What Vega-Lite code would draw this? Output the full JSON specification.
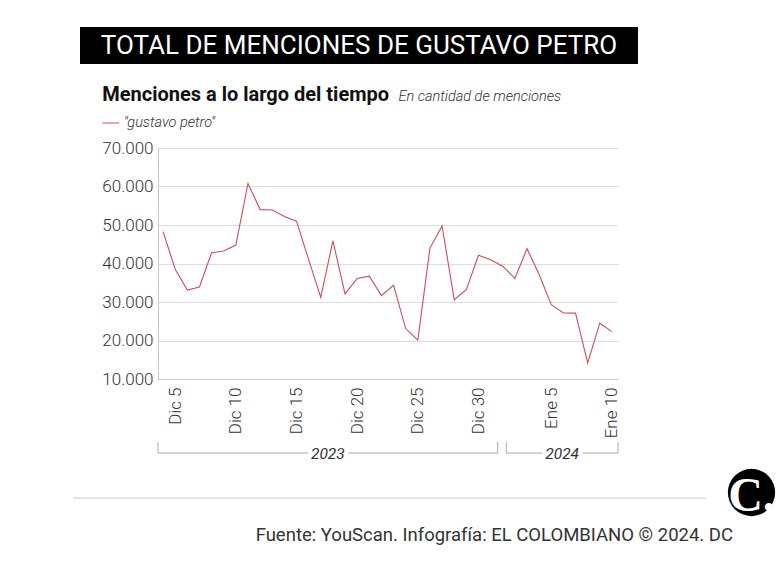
{
  "$schema": "https://vega.github.io/schema/vega-lite/v6.json",
  "padding": {"left": 72, "top": 27, "right": 2, "bottom": 15},
  "background": "white",
  "config": {
    "view": {"stroke": null},
    "font": "Roboto"
  },
  "datasets": {
    "menciones": [
      {"fecha": "2023-12-04", "menciones": 48300, "serie": "\"gustavo petro\""},
      {"fecha": "2023-12-05", "menciones": 38500, "serie": "\"gustavo petro\""},
      {"fecha": "2023-12-06", "menciones": 33100, "serie": "\"gustavo petro\""},
      {"fecha": "2023-12-07", "menciones": 33900, "serie": "\"gustavo petro\""},
      {"fecha": "2023-12-08", "menciones": 42800, "serie": "\"gustavo petro\""},
      {"fecha": "2023-12-09", "menciones": 43250, "serie": "\"gustavo petro\""},
      {"fecha": "2023-12-10", "menciones": 44800, "serie": "\"gustavo petro\""},
      {"fecha": "2023-12-11", "menciones": 60800, "serie": "\"gustavo petro\""},
      {"fecha": "2023-12-12", "menciones": 54000, "serie": "\"gustavo petro\""},
      {"fecha": "2023-12-13", "menciones": 53900, "serie": "\"gustavo petro\""},
      {"fecha": "2023-12-14", "menciones": 52200, "serie": "\"gustavo petro\""},
      {"fecha": "2023-12-15", "menciones": 51000, "serie": "\"gustavo petro\""},
      {"fecha": "2023-12-16", "menciones": 41000, "serie": "\"gustavo petro\""},
      {"fecha": "2023-12-17", "menciones": 31200, "serie": "\"gustavo petro\""},
      {"fecha": "2023-12-18", "menciones": 45900, "serie": "\"gustavo petro\""},
      {"fecha": "2023-12-19", "menciones": 32100, "serie": "\"gustavo petro\""},
      {"fecha": "2023-12-20", "menciones": 36100, "serie": "\"gustavo petro\""},
      {"fecha": "2023-12-21", "menciones": 36700, "serie": "\"gustavo petro\""},
      {"fecha": "2023-12-22", "menciones": 31650, "serie": "\"gustavo petro\""},
      {"fecha": "2023-12-23", "menciones": 34350, "serie": "\"gustavo petro\""},
      {"fecha": "2023-12-24", "menciones": 23100, "serie": "\"gustavo petro\""},
      {"fecha": "2023-12-25", "menciones": 20100, "serie": "\"gustavo petro\""},
      {"fecha": "2023-12-26", "menciones": 44000, "serie": "\"gustavo petro\""},
      {"fecha": "2023-12-27", "menciones": 49750, "serie": "\"gustavo petro\""},
      {"fecha": "2023-12-28", "menciones": 30600, "serie": "\"gustavo petro\""},
      {"fecha": "2023-12-29", "menciones": 33200, "serie": "\"gustavo petro\""},
      {"fecha": "2023-12-30", "menciones": 42150, "serie": "\"gustavo petro\""},
      {"fecha": "2023-12-31", "menciones": 41000, "serie": "\"gustavo petro\""},
      {"fecha": "2024-01-01", "menciones": 39300, "serie": "\"gustavo petro\""},
      {"fecha": "2024-01-02", "menciones": 36100, "serie": "\"gustavo petro\""},
      {"fecha": "2024-01-03", "menciones": 43850, "serie": "\"gustavo petro\""},
      {"fecha": "2024-01-04", "menciones": 37150, "serie": "\"gustavo petro\""},
      {"fecha": "2024-01-05", "menciones": 29300, "serie": "\"gustavo petro\""},
      {"fecha": "2024-01-06", "menciones": 27150, "serie": "\"gustavo petro\""},
      {"fecha": "2024-01-07", "menciones": 27100, "serie": "\"gustavo petro\""},
      {"fecha": "2024-01-08", "menciones": 14200, "serie": "\"gustavo petro\""},
      {"fecha": "2024-01-09", "menciones": 24500, "serie": "\"gustavo petro\""},
      {"fecha": "2024-01-10", "menciones": 22300, "serie": "\"gustavo petro\""}
    ],
    "anios": [
      {"anio": "2023", "inicio": "2023-12-03T14:00:00Z", "fin": "2023-12-31T14:00:00Z", "centro": "2023-12-17T14:00:00Z"},
      {"anio": "2024", "inicio": "2024-01-01T07:00:00Z", "fin": "2024-01-10T12:00:00Z", "centro": "2024-01-05T21:30:00Z"}
    ]
  },
  "bounds": "flush",
  "spacing": 121,
  "resolve": {"scale": {"x": "independent", "y": "independent", "color": "independent"}, "legend": {"color": "independent"}},
  "vconcat": [
    {
      "bounds": "flush",
      "spacing": 6,
      "resolve": {"scale": {"x": "independent", "y": "independent"}},
      "hconcat": [
        {"width": 1, "height": 1, "data": {"values": []}, "mark": "point"},
        {
          "width": 558,
          "height": 37,
          "view": {"fill": "black", "stroke": null},
          "data": {"values": [{"titulo": "TOTAL DE MENCIONES DE GUSTAVO PETRO"}]},
          "mark": {"type": "text", "color": "white", "font": "Roboto", "fontSize": 26, "fontWeight": 400, "align": "center", "baseline": "alphabetic", "dy": 8.5},
          "encoding": {"text": {"field": "titulo", "type": "nominal"}}
        }
      ]
    },
    {
      "bounds": "flush",
      "spacing": 318,
      "resolve": {"scale": {"x": "independent", "y": "independent", "color": "independent"}, "legend": {"color": "independent"}},
      "vconcat": [
        {
          "bounds": "flush",
          "spacing": 84,
          "resolve": {"scale": {"x": "independent", "y": "independent", "color": "independent"}, "legend": {"color": "independent"}},
          "hconcat": [
            {"width": 1, "height": 1, "data": {"values": []}, "mark": "point"},
            {
              "bounds": "flush",
              "spacing": 63,
              "resolve": {"scale": {"x": "independent", "y": "independent", "color": "independent"}, "legend": {"color": "independent"}},
              "vconcat": [
                {
                  "width": 460,
                  "height": 231,
                  "data": {"name": "menciones"},
                  "mark": {"type": "line", "strokeWidth": 1.1},
                  "encoding": {
                    "x": {
                      "field": "fecha",
                      "type": "temporal",
                      "scale": {"type": "utc", "domain": [{"year": 2023, "month": 12, "date": 3, "hours": 14, "utc": true}, {"year": 2024, "month": 1, "date": 10, "hours": 12, "utc": true}]},
                      "axis": {
                        "values": [
                          {"year": 2023, "month": 12, "date": 5, "utc": true},
                          {"year": 2023, "month": 12, "date": 10, "utc": true},
                          {"year": 2023, "month": 12, "date": 15, "utc": true},
                          {"year": 2023, "month": 12, "date": 20, "utc": true},
                          {"year": 2023, "month": 12, "date": 25, "utc": true},
                          {"year": 2023, "month": 12, "date": 30, "utc": true},
                          {"year": 2024, "month": 1, "date": 5, "utc": true},
                          {"year": 2024, "month": 1, "date": 10, "utc": true}
                        ],
                        "labelExpr": "(utcmonth(datum.value) == 11 ? 'Dic ' : 'Ene ') + utcdate(datum.value)",
                        "labelAngle": -90,
                        "labelAlign": "right",
                        "labelBaseline": "middle",
                        "labelPadding": 8,
                        "labelFont": "Roboto",
                        "labelFontSize": 17,
                        "labelFontWeight": 300,
                        "labelColor": "#333333",
                        "labelOverlap": false,
                        "labelFlush": false,
                        "labelBound": false,
                        "ticks": false,
                        "grid": false,
                        "domainColor": "#c8c8c8",
                        "title": "Menciones a lo largo del tiempo",
                        "titleX": -56.3,
                        "titleY": -278.3,
                        "titleAngle": 0,
                        "titleAlign": "left",
                        "titleBaseline": "alphabetic",
                        "titleFont": "Roboto",
                        "titleFontSize": 20,
                        "titleFontWeight": "bold",
                        "titleColor": "#111111"
                      }
                    },
                    "y": {
                      "field": "menciones",
                      "type": "quantitative",
                      "scale": {"domain": [10000, 70000], "nice": false, "zero": false},
                      "axis": {
                        "values": [10000, 20000, 30000, 40000, 50000, 60000, 70000],
                        "labelExpr": "format(datum.value / 1000, 'd') + '.000'",
                        "labelFont": "Roboto",
                        "labelFontSize": 17,
                        "labelFontWeight": 300,
                        "labelColor": "#333333",
                        "labelPadding": 5,
                        "ticks": false,
                        "grid": true,
                        "gridColor": "#dddddd",
                        "domainColor": "#c8c8c8",
                        "title": "En cantidad de menciones",
                        "titleX": 240,
                        "titleY": -47.3,
                        "titleAngle": 0,
                        "titleAlign": "left",
                        "titleBaseline": "alphabetic",
                        "titleFont": "Roboto",
                        "titleFontSize": 14.5,
                        "titleFontStyle": "italic",
                        "titleFontWeight": 300,
                        "titleColor": "#333333"
                      }
                    },
                    "color": {
                      "field": "serie",
                      "type": "nominal",
                      "scale": {"range": ["#d24e56"]},
                      "legend": {
                        "orient": "none",
                        "legendX": -56.3,
                        "legendY": -34,
                        "title": null,
                        "padding": 0,
                        "symbolType": "stroke",
                        "symbolSize": 280,
                        "symbolStrokeWidth": 1,
                        "labelFont": "Roboto",
                        "labelFontSize": 14.5,
                        "labelFontStyle": "italic",
                        "labelFontWeight": 300,
                        "labelColor": "#333333",
                        "labelOffset": 4
                      }
                    }
                  }
                },
                {
                  "width": 460,
                  "height": 11,
                  "data": {"name": "anios"},
                  "layer": [
                    {
                      "mark": {"type": "rule", "color": "#aaaaaa", "strokeWidth": 1},
                      "encoding": {
                        "x": {"field": "inicio", "type": "temporal", "scale": {"type": "utc", "domain": [{"year": 2023, "month": 12, "date": 3, "hours": 14, "utc": true}, {"year": 2024, "month": 1, "date": 10, "hours": 12, "utc": true}]}, "axis": null},
                        "x2": {"field": "fin"},
                        "y": {"datum": 0, "type": "quantitative", "scale": {"domain": [0, 1]}, "axis": null}
                      }
                    },
                    {
                      "mark": {"type": "rule", "color": "#aaaaaa", "strokeWidth": 1},
                      "encoding": {
                        "x": {"field": "inicio", "type": "temporal"},
                        "y": {"datum": 0, "type": "quantitative"},
                        "y2": {"datum": 1}
                      }
                    },
                    {
                      "mark": {"type": "rule", "color": "#aaaaaa", "strokeWidth": 1},
                      "encoding": {
                        "x": {"field": "fin", "type": "temporal"},
                        "y": {"datum": 0, "type": "quantitative"},
                        "y2": {"datum": 1}
                      }
                    },
                    {
                      "mark": {"type": "text", "color": "white", "stroke": "white", "strokeWidth": 9, "strokeJoin": "round", "font": "Roboto", "fontSize": 15.5, "fontStyle": "italic", "fontWeight": 400, "align": "center", "baseline": "alphabetic", "dy": 6},
                      "encoding": {
                        "x": {"field": "centro", "type": "temporal"},
                        "y": {"datum": 0, "type": "quantitative"},
                        "text": {"field": "anio", "type": "nominal"}
                      }
                    },
                    {
                      "mark": {"type": "text", "color": "#333333", "font": "Roboto", "fontSize": 15.5, "fontStyle": "italic", "fontWeight": 400, "align": "center", "baseline": "alphabetic", "dy": 6},
                      "encoding": {
                        "x": {"field": "centro", "type": "temporal"},
                        "y": {"datum": 0, "type": "quantitative"},
                        "text": {"field": "anio", "type": "nominal"}
                      }
                    }
                  ]
                }
              ]
            }
          ]
        },
        {
          "bounds": "flush",
          "spacing": 19,
          "resolve": {"scale": {"x": "independent", "y": "independent"}},
          "hconcat": [
            {
              "width": 633,
              "height": 32,
              "data": {"values": [{"linea": "pie"}]},
              "title": {
                "text": "Fuente: YouScan. Infografía: EL COLOMBIANO © 2024. DC",
                "orient": "bottom",
                "anchor": "end",
                "frame": "group",
                "dx": 27,
                "offset": 42,
                "baseline": "alphabetic",
                "font": "Roboto",
                "fontSize": 18.5,
                "fontWeight": "normal",
                "color": "#333333"
              },
              "mark": {"type": "rule", "color": "#cccccc", "strokeWidth": 1},
              "encoding": {
                "y": {"datum": 0, "type": "quantitative", "scale": {"domain": [0, 1]}, "axis": null}
              }
            },
            {
              "width": 53,
              "height": 53,
              "data": {"values": [{"logo": "C."}]},
              "layer": [
                {
                  "mark": {"type": "point", "shape": "circle", "filled": true, "color": "black", "opacity": 1, "size": 2235, "strokeWidth": 0},
                  "encoding": {}
                },
                {
                  "mark": {"type": "text", "color": "white", "font": "Liberation Serif, DejaVu Serif, serif", "fontSize": 48, "fontWeight": "bold", "align": "center", "baseline": "alphabetic", "dy": 18},
                  "encoding": {"text": {"field": "logo", "type": "nominal"}}
                }
              ]
            }
          ]
        }
      ]
    }
  ]
}
